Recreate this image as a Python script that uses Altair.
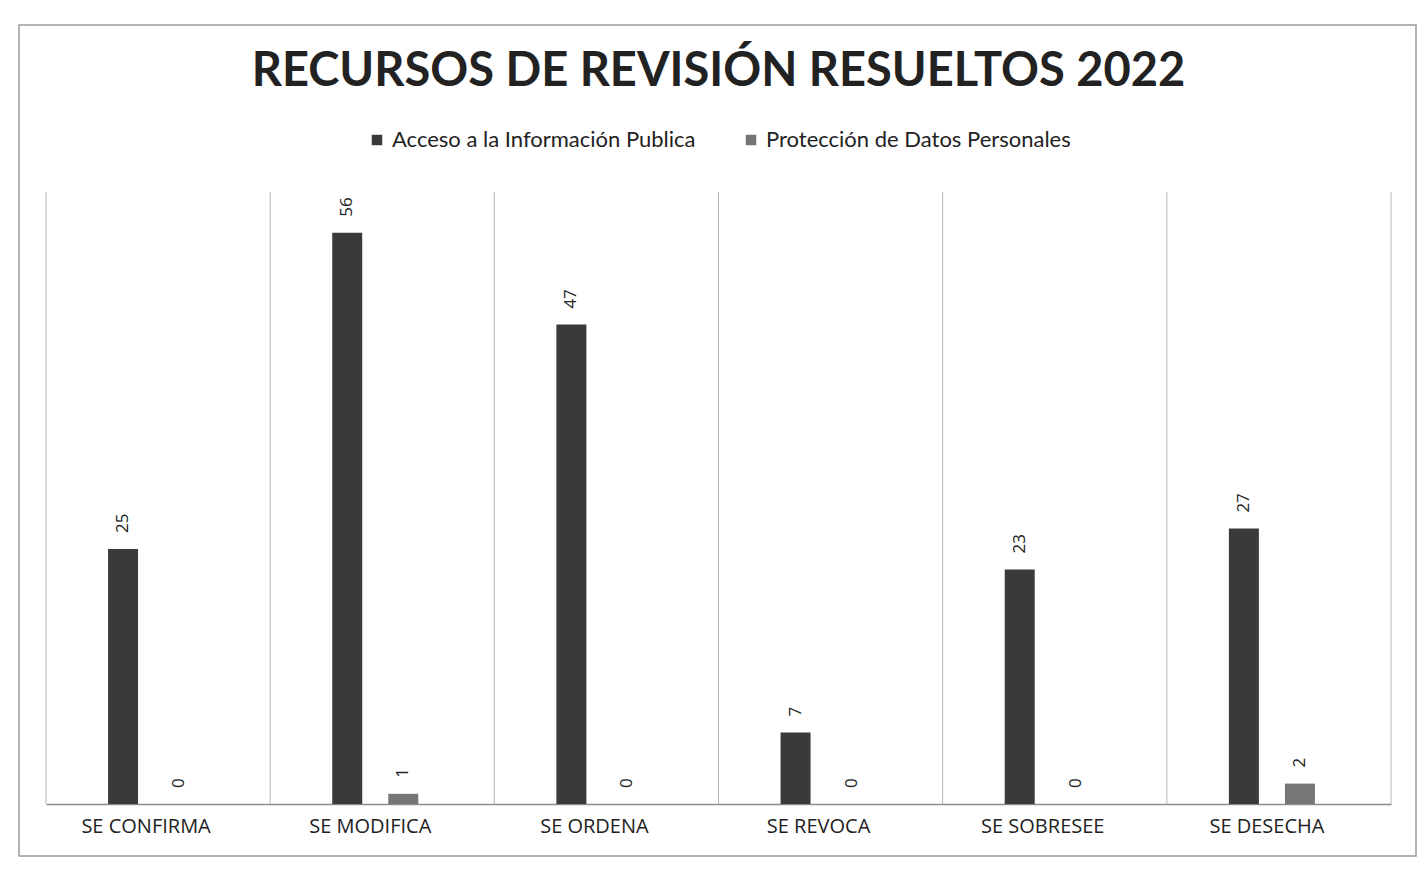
import altair as alt
import pandas as pd

categories = ["SE CONFIRMA", "SE MODIFICA", "SE ORDENA", "SE REVOCA", "SE SOBRESEE", "SE DESECHA"]
series = ["Acceso a la Información Publica", "Protección de Datos Personales"]
acceso = [25, 56, 47, 7, 23, 27]
proteccion = [0, 1, 0, 0, 0, 2]
colors = ["#3a3a3a", "#767676"]
title_text = "RECURSOS DE REVISIÓN RESUELTOS 2022"

rows = []
for c, a, p in zip(categories, acceso, proteccion):
    rows.append({"categoria": c, "serie": series[0], "valor": a})
    rows.append({"categoria": c, "serie": series[1], "valor": p})
df = pd.DataFrame(rows)
cat_df = pd.DataFrame({"categoria": categories})

W, H = 1345, 612

x_enc = alt.X("categoria:N", sort=categories,
              scale=alt.Scale(paddingInner=0, paddingOuter=0),
              axis=alt.Axis(title=None, labelAngle=0, ticks=False, grid=False,
                            bandPosition=0.5, labelAlign="center", labelOffset=-12,
                            domainColor="#8c8c8c", domainWidth=1.5,
                            labelFont="Open Sans", labelFontSize=20,
                            labelColor="#222222", labelPadding=22))
xo_scale = alt.Scale(paddingInner=0, paddingOuter=1, align=0.4375)
xo_enc = alt.XOffset("serie:N", sort=series, scale=xo_scale)
y_enc = alt.Y("valor:Q", scale=alt.Scale(domain=[0, 60]), axis=None)

bars = alt.Chart(df).mark_bar(size=30).encode(
    x=x_enc, xOffset=xo_enc, y=y_enc,
    color=alt.Color("serie:N", sort=series,
                    scale=alt.Scale(domain=series, range=colors),
                    legend=alt.Legend(title=None, orient="none", direction="horizontal",
                                      legendX=320, legendY=-63,
                                      symbolType="square", symbolSize=110,
                                      labelFont="Lato", labelFontSize=22,
                                      labelLimit=0,
                                      labelColor="#222222", columnPadding=44,
                                      symbolStrokeWidth=0)),
)

labels = alt.Chart(df).mark_text(angle=270, align="left", baseline="middle", dx=16,
                                 font="Open Sans", fontSize=17, color="#222222").encode(
    x=alt.X("categoria:N", sort=categories),
    xOffset=alt.XOffset("serie:N", sort=series, scale=xo_scale),
    y="valor:Q", text="valor:Q",
)

grid = alt.Chart(cat_df).mark_rule(color="#b5b5b5", strokeWidth=1).encode(
    x=alt.X("categoria:N", sort=categories, bandPosition=0),
    y=alt.value(0), y2=alt.value(H),
)
grid_right = alt.Chart(cat_df.head(1)).mark_rule(color="#b5b5b5", strokeWidth=1).encode(
    x=alt.value(W), y=alt.value(0), y2=alt.value(H),
)

title = alt.Chart(cat_df.head(1)).mark_text(font="Lato", fontSize=47, fontWeight="bold",
                                            color="#222222", align="center",
                                            baseline="middle").encode(
    x=alt.value(W / 2), y=alt.value(-120), text=alt.value(title_text),
)

border = alt.Chart(cat_df.head(1)).mark_rect(fill="transparent", stroke="#9a9a9a",
                                             strokeWidth=1.5).encode(
    x=alt.value(-27), x2=alt.value(1370), y=alt.value(-167), y2=alt.value(664),
)

chart = alt.layer(border, grid, grid_right, bars, labels, title).properties(
    width=W, height=H,
    padding={"left": 10, "top": 16, "right": 0, "bottom": 0},
    background="white",
).configure_view(stroke=None)

chart.save("out.html", embed_options={"renderer": "svg", "actions": False})
